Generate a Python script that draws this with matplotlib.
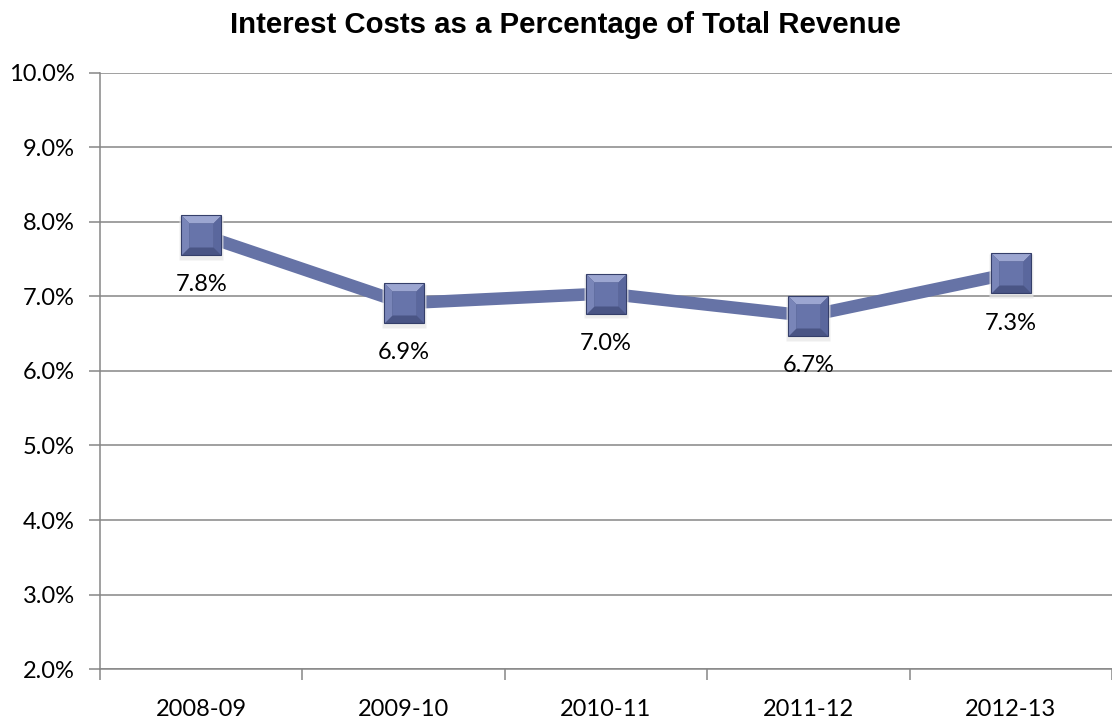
import numpy as np
import matplotlib
matplotlib.use("Agg")
import matplotlib.pyplot as plt

years = ["2008-09", "2009-10", "2010-11", "2011-12", "2012-13"]
pct = [7.83, 6.91, 7.04, 6.74, 7.31]   # interest / total revenue, %

LINE = "#6673a6"
GRID = "#868686"
FS = 17

plt.rcParams["font.family"] = ["Lato", "DejaVu Sans"]

fig = plt.figure(figsize=(11.12, 7.21), dpi=100)
ax = fig.add_axes([0.0899, 0.0721, 0.9101, 0.8267])

x = np.arange(len(years))
ax.set_xlim(-0.5, len(years) - 0.5)
ax.set_ylim(2, 10)

# horizontal gridlines, drawn under everything
yt = np.arange(2, 10.1, 1)
ax.set_yticks(yt)
ax.set_yticklabels([f"{v:.1f}%" for v in yt])
ax.yaxis.grid(True, color=GRID, lw=1.1)
ax.set_axisbelow(True)

# category boundaries carry the ticks, names sit between them
ax.set_xticks(np.arange(-0.5, len(years)))
ax.set_xticklabels([])
ax.set_xticks(x, minor=True)
ax.set_xticklabels(years, minor=True)
ax.tick_params(axis="x", which="major", length=8, color=GRID, width=1.1)
ax.tick_params(axis="x", which="minor", length=0, pad=21.5, labelsize=FS)
ax.tick_params(axis="y", length=8, color=GRID, width=1.1, pad=10, labelsize=FS)

for s in ("top", "right"):
    ax.spines[s].set_visible(False)
for s in ("left", "bottom"):
    ax.spines[s].set_color(GRID)
    ax.spines[s].set_linewidth(1.1)

# the series line
ax.plot(x, pct, color=LINE, lw=9, solid_capstyle="butt", zorder=3)

# beveled square markers: soft shadow, dark body, lit faces, flat centre
ms = 29
ax.plot(x, np.array(pct) - 0.04, ls="none", marker="s", ms=ms + 3,
        mfc="#e6e6e6", mec="none", alpha=0.7, zorder=3.5)
ax.plot(x, pct, ls="none", marker="s", ms=ms, mfc="#4a5585", mec="#353f6a",
        mew=0.8, zorder=4)
top_face = [(-1, 1), (1, 1), (0.62, 0.62), (-0.62, 0.62), (-1, 1)]
left_face = [(-1, 1), (-0.62, 0.62), (-0.62, -0.62), (-1, -1), (-1, 1)]
right_face = [(1, 1), (1, -1), (0.62, -0.62), (0.62, 0.62), (1, 1)]
ax.plot(x, pct, ls="none", marker=top_face, ms=ms - 1, mfc="#9ca6d1", mec="none", zorder=4.1)
ax.plot(x, pct, ls="none", marker=left_face, ms=ms - 1, mfc="#7985b8", mec="none", zorder=4.1)
ax.plot(x, pct, ls="none", marker=right_face, ms=ms - 1, mfc="#5a679d", mec="none", zorder=4.1)
ax.plot(x, pct, ls="none", marker="s", ms=(ms - 1) * 0.62, mfc="#6774aa", mec="none", zorder=4.2)

# data labels below each point
for xi, v in zip(x, pct):
    ax.annotate(f"{v:.1f}%", (xi, v), xytext=(0, -40.5), textcoords="offset points",
                ha="center", va="baseline", fontsize=FS, zorder=5)

fig.text(565.5 / 1112, 1 - 33 / 721, "Interest Costs as a Percentage of Total Revenue",
         ha="center", va="baseline", fontsize=21.2, fontweight="bold",
         family=["Liberation Sans", "DejaVu Sans"])

fig.savefig("out.png", dpi=100)
